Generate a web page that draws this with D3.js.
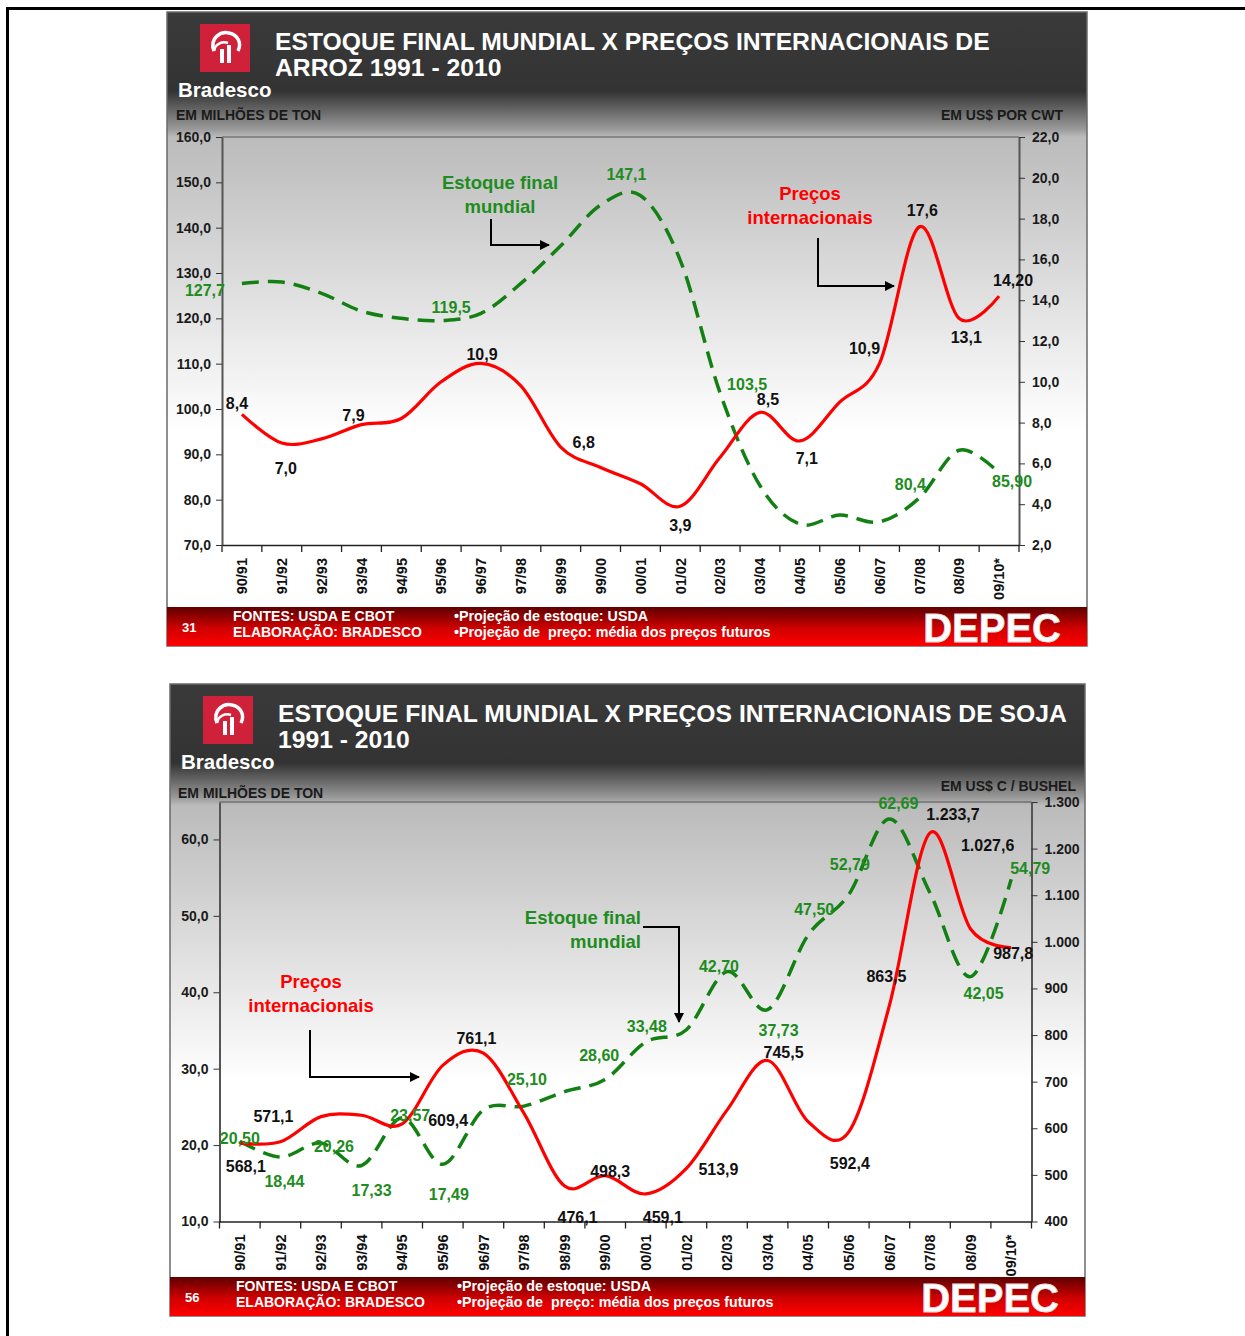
<!DOCTYPE html>
<html>
<head>
<meta charset="utf-8">
<script src="https://cdn.jsdelivr.net/npm/d3@7"></script>
<style>
  body { margin: 0; background: #fff; }
  svg { display: block; font-family: "Liberation Sans", Arial, sans-serif; }
</style>
</head>
<body>
<div id="page"></div>
<script>
// safras (20 categorias)
const seasons = ["90/91", "91/92", "92/93", "93/94", "94/95", "95/96", "96/97", "97/98", "98/99", "99/00",
  "00/01", "01/02", "02/03", "03/04", "04/05", "05/06", "06/07", "07/08", "08/09", "09/10*"];

// ARROZ - estoque final (milhões de ton) e preço (US$/cwt)
const arrozEstoque = [127.7, 128.0, 125.5, 121.6, 120.0, 119.5, 121.1, 127.7, 136.0, 145.0,
  147.1, 132.8, 103.5, 83.1, 74.6, 76.6, 75.1, 80.4, 90.9, 85.9];
const arrozPreco = [8.4, 7.0, 7.2, 7.9, 8.2, 10.0, 10.9, 9.8, 6.8, 5.8,
  5.0, 3.9, 6.3, 8.5, 7.1, 9.0, 10.9, 17.6, 13.1, 14.2];
const arrozEstoqueRot = ["127,7", null, null, null, null, "119,5", null, null, null, null,
  "147,1", null, "103,5", null, null, null, null, "80,4", null, "85,90"];
const arrozPrecoRot = ["8,4", "7,0", null, "7,9", null, null, "10,9", null, "6,8", null,
  null, "3,9", null, "8,5", "7,1", null, "10,9", "17,6", "13,1", "14,20"];

// SOJA - estoque final (milhões de ton) e preço (US$ c/bushel)
const sojaEstoque = [20.50, 18.44, 20.26, 17.33, 23.57, 17.49, 24.6, 25.10, 27.0, 28.60,
  33.48, 35.1, 42.70, 37.73, 47.50, 52.79, 62.69, 53.0, 42.05, 54.79];
const sojaPreco = [568.1, 571.1, 625, 628, 609.4, 735, 761.1, 632, 476.1, 498.3,
  459.1, 513.9, 639, 745.5, 614, 592.4, 863.5, 1233.7, 1027.6, 987.8];
const sojaEstoqueRot = ["20,50", "18,44", "20,26", "17,33", "23,57", "17,49", null, "25,10", null, "28,60",
  "33,48", null, "42,70", "37,73", "47,50", "52,79", "62,69", null, "42,05", "54,79"];
const sojaPrecoRot = ["568,1", "571,1", null, null, "609,4", null, "761,1", null, "476,1", "498,3",
  "459,1", "513,9", null, "745,5", null, "592,4", "863,5", "1.233,7", "1.027,6", "987,8"];

// eixos
const arrozTicksEsq = d3.range(70, 161, 10);
const arrozTicksDir = d3.range(2, 23, 2);
const sojaTicksEsq = d3.range(10, 61, 10);
const sojaTicksDir = d3.range(400, 1301, 100);

const ptBR = d3.formatLocale({ decimal: ",", thousands: ".", grouping: [3], currency: ["", ""] });

const W = 1245, H = 1336;
const svg = d3.select("#page").append("svg").attr("width", W).attr("height", H);
const defs = svg.append("defs");

// arrow head
defs.append("marker").attr("id", "seta").attr("viewBox", "0 0 10 10")
  .attr("refX", 9).attr("refY", 5).attr("markerWidth", 5).attr("markerHeight", 5)
  .attr("orient", "auto")
  .append("path").attr("d", "M0,0L10,5L0,10z").attr("fill", "#000");

// footer gradient
const gf = defs.append("linearGradient").attr("id", "rodape").attr("x1", 0).attr("y1", 0).attr("x2", 0).attr("y2", 1);
gf.append("stop").attr("offset", 0).attr("stop-color", "#5e0000");
gf.append("stop").attr("offset", 0.55).attr("stop-color", "#d00000");
gf.append("stop").attr("offset", 1).attr("stop-color", "#ff0000");

// page frame
svg.append("line").attr("x1", 6).attr("x2", W).attr("y1", 8.5).attr("y2", 8.5).attr("stroke", "#000").attr("stroke-width", 3);
svg.append("line").attr("x1", 7.5).attr("x2", 7.5).attr("y1", 7).attr("y2", H).attr("stroke", "#000").attr("stroke-width", 3);

function logo(g, x, y) {
  g.append("rect").attr("x", x).attr("y", y).attr("width", 50).attr("height", 48).attr("fill", "#cf2139");
  g.append("path")
    .attr("d", `M${x + 14},${y + 27} C${x + 9},${y + 14} ${x + 21},${y + 7} ${x + 29},${y + 9} C${x + 38},${y + 11} ${x + 42},${y + 19} ${x + 38},${y + 27}`)
    .attr("fill", "none").attr("stroke", "#fff").attr("stroke-width", 3.5);
  g.append("path")
    .attr("d", `M${x + 14},${y + 27} C${x + 15},${y + 20} ${x + 22},${y + 17} ${x + 28},${y + 19}`)
    .attr("fill", "none").attr("stroke", "#fff").attr("stroke-width", 2.5);
  g.append("rect").attr("x", x + 20).attr("y", y + 25).attr("width", 4).attr("height", 14).attr("fill", "#fff");
  g.append("rect").attr("x", x + 27).attr("y", y + 21).attr("width", 4).attr("height", 18).attr("fill", "#fff");
}

function drawSlide(c) {
  const g = svg.append("g");

  // background gradient of the slide
  const gid = "fundo" + c.id;
  const bg = defs.append("linearGradient").attr("id", gid).attr("x1", 0).attr("y1", 0).attr("x2", 0).attr("y2", 1);
  [[0, "#3a3a3a"], [c.gDark, "#333333"], [c.gMid, "#9a9a9a"], [c.gMid + 0.012, "#bbbbbb"], [c.gWhite, "#ffffff"], [1, "#ffffff"]]
    .forEach(s => bg.append("stop").attr("offset", s[0]).attr("stop-color", s[1]));

  g.append("rect").attr("x", c.x0).attr("y", c.y0).attr("width", c.w).attr("height", c.h)
    .attr("fill", `url(#${gid})`).attr("stroke", "#6a6a6a").attr("stroke-width", 1.5);

  // footer
  g.append("rect").attr("x", c.x0).attr("y", c.y0 + c.h - 39).attr("width", c.w).attr("height", 39).attr("fill", "url(#rodape)");
  const fy = c.y0 + c.h - 39;
  g.append("text").attr("x", c.x0 + 15).attr("y", fy + 25).attr("fill", "#fff").attr("font-weight", "bold").attr("font-size", 13).text(c.num);
  g.append("text").attr("x", c.x0 + 66).attr("y", fy + 14).attr("fill", "#fff").attr("font-weight", "bold").attr("font-size", 14).text("FONTES: USDA E CBOT");
  g.append("text").attr("x", c.x0 + 66).attr("y", fy + 30).attr("fill", "#fff").attr("font-weight", "bold").attr("font-size", 14).text("ELABORAÇÃO: BRADESCO");
  g.append("text").attr("x", c.x0 + 287).attr("y", fy + 14).attr("fill", "#fff").attr("font-weight", "bold").attr("font-size", 14.3).text("•Projeção de estoque: USDA");
  g.append("text").attr("x", c.x0 + 287).attr("y", fy + 30).attr("fill", "#fff").attr("font-weight", "bold").attr("font-size", 14.3)
    .attr("xml:space", "preserve").text("•Projeção de  preço: média dos preços futuros");
  g.append("text").attr("x", c.x0 + c.w - 26).attr("y", fy + 35).attr("text-anchor", "end")
    .attr("fill", "#fff").attr("font-weight", "900").attr("font-size", 40).attr("stroke", "#ddd").attr("stroke-width", 0.8)
    .text("DEPEC");

  // header
  logo(g, c.x0 + 33, c.y0 + 12);
  g.append("text").attr("x", c.x0 + 11).attr("y", c.y0 + 85).attr("fill", "#fff").attr("font-weight", "bold").attr("font-size", 20.5).text("Bradesco");
  c.title.forEach((t, i) => {
    g.append("text").attr("x", c.titleX).attr("y", c.y0 + 38 + i * 26).attr("fill", "#fff")
      .attr("font-weight", "bold").attr("font-size", 24.7).text(t);
  });

  // unit titles
  g.append("text").attr("x", c.unitLX).attr("y", c.unitLY).attr("font-weight", "bold").attr("font-size", 14).attr("fill", "#1a1a1a").text(c.unitL);
  g.append("text").attr("x", c.unitRX).attr("y", c.unitRY).attr("text-anchor", "end").attr("font-weight", "bold").attr("font-size", 14).attr("fill", "#1a1a1a").text(c.unitR);

  const p = c.plot;
  const x = d3.scaleBand().domain(seasons).range([p.left, p.right]).padding(0);
  const cx = d => x(d) + x.bandwidth() / 2;
  const yL = d3.scaleLinear().domain(c.domL).range([p.bottom, p.top]);
  const yR = d3.scaleLinear().domain(c.domR).range([p.bottom, p.top]);

  // frame top line
  g.append("line").attr("x1", p.left).attr("x2", p.right).attr("y1", p.top).attr("y2", p.top)
    .attr("stroke", "#555").attr("stroke-width", 1.2);

  // left axis
  const axL = g.append("g").attr("transform", `translate(${p.left},0)`)
    .call(d3.axisLeft(yL).tickValues(c.ticksL).tickFormat(ptBR.format(".1f")).tickSize(6).tickSizeOuter(0).tickPadding(5));
  // right axis
  const axR = g.append("g").attr("transform", `translate(${p.right},0)`)
    .call(d3.axisRight(yR).tickValues(c.ticksR).tickFormat(ptBR.format(c.fmtR)).tickSize(6).tickSizeOuter(0).tickPadding(7));
  [axL, axR].forEach(a => {
    a.select(".domain").attr("stroke", "#555").attr("stroke-width", 2);
    a.selectAll(".tick line").attr("stroke", "#333");
    a.selectAll("text").attr("font-family", "Liberation Sans, Arial, sans-serif")
      .attr("font-size", 14).attr("font-weight", "bold").attr("fill", "#1a1a1a");
  });

  // bottom axis with rotated labels
  const axB = g.append("g").attr("transform", `translate(0,${p.bottom})`)
    .call(d3.axisBottom(x).tickSize(0).tickSizeOuter(0));
  axB.select(".domain").attr("stroke", "#222").attr("stroke-width", 1.5);
  axB.selectAll(".tick text")
    .attr("transform", "rotate(-90)")
    .attr("text-anchor", "end")
    .attr("x", -13).attr("y", 0).attr("dy", "0.36em")
    .attr("font-family", "Liberation Sans, Arial, sans-serif")
    .attr("font-size", 14.5).attr("font-weight", "bold").attr("fill", "#111");
  const bounds = seasons.map(d => x(d)).concat([x.range()[1]]);
  g.append("g").selectAll("line").data(bounds).join("line")
    .attr("x1", d => d).attr("x2", d => d).attr("y1", p.bottom).attr("y2", p.bottom + 7)
    .attr("stroke", "#222").attr("stroke-width", 1.3);

  // lines
  const curve = d3.curveCardinal.tension(0);
  const lineE = d3.line().x((d, i) => cx(seasons[i])).y(d => yL(d)).curve(curve);
  const lineP = d3.line().x((d, i) => cx(seasons[i])).y(d => yR(d)).curve(curve);

  g.append("path").datum(c.estoque).attr("d", lineE).attr("fill", "none")
    .attr("stroke", "#128012").attr("stroke-width", 3.5).attr("stroke-dasharray", "17,9");
  g.append("path").datum(c.preco).attr("d", lineP).attr("fill", "none")
    .attr("stroke", "#ff0000").attr("stroke-width", 3.2).attr("stroke-linejoin", "round");

  // data labels
  const labE = c.estoque.map((v, i) => ({ v, i, t: c.estoqueRot[i], o: c.offE[i] })).filter(d => d.t);
  g.append("g").selectAll("text").data(labE).join("text")
    .attr("x", d => cx(seasons[d.i]) + d.o[0]).attr("y", d => yL(d.v) + d.o[1])
    .attr("dy", "0.36em").attr("text-anchor", "middle")
    .attr("font-size", 16).attr("font-weight", "bold").attr("fill", "#1e8c1e").text(d => d.t);
  const labP = c.preco.map((v, i) => ({ v, i, t: c.precoRot[i], o: c.offP[i] })).filter(d => d.t);
  g.append("g").selectAll("text").data(labP).join("text")
    .attr("x", d => cx(seasons[d.i]) + d.o[0]).attr("y", d => yR(d.v) + d.o[1])
    .attr("dy", "0.36em").attr("text-anchor", "middle")
    .attr("font-size", 16).attr("font-weight", "bold").attr("fill", "#111").text(d => d.t);

  // annotations
  c.notes.forEach(n => {
    n.lines.forEach((t, i) => {
      g.append("text").attr("x", n.x).attr("y", n.y + i * 24).attr("text-anchor", n.anchor)
        .attr("font-size", 18.5).attr("font-weight", "bold").attr("fill", n.color).text(t);
    });
    g.append("path").attr("d", d3.line()(n.arrow)).attr("fill", "none")
      .attr("stroke", "#000").attr("stroke-width", 2).attr("marker-end", "url(#seta)");
  });
}

drawSlide({
  id: 1, x0: 167, y0: 12, w: 920, h: 634, num: "31",
  gDark: 0.125, gMid: 0.185, gWhite: 0.66,
  titleX: 275, title: ["ESTOQUE FINAL MUNDIAL X PREÇOS INTERNACIONAIS DE", "ARROZ 1991 - 2010"],
  unitL: "EM MILHÕES DE TON", unitLX: 176, unitLY: 120,
  unitR: "EM US$ POR CWT", unitRX: 1063, unitRY: 120,
  plot: { left: 222, right: 1019, top: 137, bottom: 545 },
  domL: [70, 160], domR: [2, 22], ticksL: arrozTicksEsq, ticksR: arrozTicksDir, fmtR: ".1f",
  estoque: arrozEstoque, preco: arrozPreco, estoqueRot: arrozEstoqueRot, precoRot: arrozPrecoRot,
  offE: [[-37, 7], 0, 0, 0, 0, [10, -13], 0, 0, 0, 0, [-14, -21], 0, [27, -9], 0, 0, 0, 0, [-9, -14], 0, [13, 8]],
  offP: [[-5, -11], [4, 25], 0, [-8, -9], 0, 0, [1, -9], 0, [23, -5], 0, 0, [0, 19], 0, [8, -13], [7, 17], 0, [-15, -15], [3, -17], [7, 19], [14, -16]],
  notes: [
    { lines: ["Estoque final", "mundial"], x: 500, y: 189, anchor: "middle", color: "#1e8c1e",
      arrow: [[491, 219], [491, 245], [549, 245]] },
    { lines: ["Preços", "internacionais"], x: 810, y: 200, anchor: "middle", color: "#ff0000",
      arrow: [[818, 238], [818, 286], [894, 286]] }
  ]
});

drawSlide({
  id: 2, x0: 170, y0: 684, w: 915, h: 632, num: "56",
  gDark: 0.125, gMid: 0.18, gWhite: 0.63,
  titleX: 278, title: ["ESTOQUE FINAL MUNDIAL X PREÇOS INTERNACIONAIS DE SOJA", "1991 - 2010"],
  unitL: "EM MILHÕES DE TON", unitLX: 178, unitLY: 798,
  unitR: "EM US$ C / BUSHEL", unitRX: 1076, unitRY: 791,
  plot: { left: 219.5, right: 1031.5, top: 802, bottom: 1221.5 },
  domL: [10, 64.9], domR: [400, 1300], ticksL: sojaTicksEsq, ticksR: sojaTicksDir, fmtR: ",.0f",
  estoque: sojaEstoque, preco: sojaPreco, estoqueRot: sojaEstoqueRot, precoRot: sojaPrecoRot,
  offE: [[0, -3], [4, 24], [13, 3], [10, 25], [8, -3], [6, 30], 0, [3, -27], 0, [-6, -24], [1, -16], 0, [-8, -5], [11, 21], [6, -26], [1, -30], [9, -16], 0, [13, 17], [19, -11]],
  offP: [[6, 23], [-7, -26], 0, 0, [46, -4], 0, [-7, -15], 0, [13, 31], [5, -4], [17, 23], [32, 1], 0, [16, -8], 0, [1, 31], [-3, -29], [23, -19], [17, -84], [2, 6]],
  notes: [
    { lines: ["Estoque final", "mundial"], x: 641, y: 924, anchor: "end", color: "#1e8c1e",
      arrow: [[643, 927], [679, 927], [679, 1022]] },
    { lines: ["Preços", "internacionais"], x: 311, y: 988, anchor: "middle", color: "#ff0000",
      arrow: [[310, 1030], [310, 1077], [419, 1077]] }
  ]
});
</script>
</body>
</html>
